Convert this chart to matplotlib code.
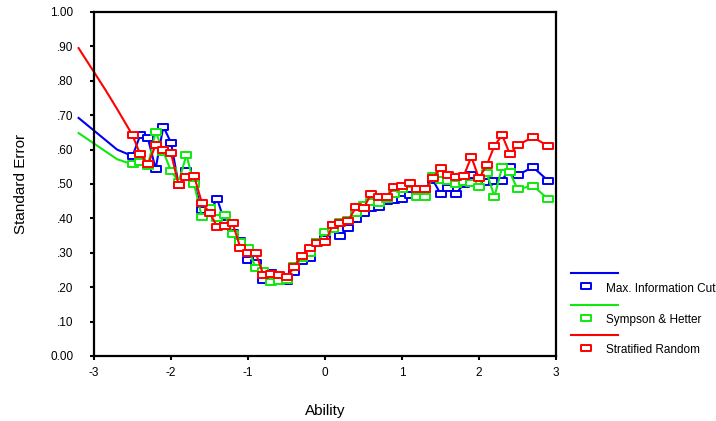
import matplotlib
matplotlib.use("Agg")
import matplotlib.pyplot as plt
from matplotlib.path import Path
from matplotlib.lines import Line2D

plt.rcParams['font.family'] = ['Liberation Sans', 'DejaVu Sans']
plt.rcParams['axes.unicode_minus'] = False

# lead-in part of each curve (drawn without markers)
lead_x = [-3.2, -2.85, -2.7]
lead_red = [0.895, 0.773, 0.718]
lead_x2 = [-3.2, -2.7]
lead_blue = [0.692, 0.600]
lead_green = [0.648, 0.572]

# ability points with markers (2.6 and 2.8 have no point)
ability = [-2.5, -2.4, -2.3, -2.2, -2.1, -2.0, -1.9, -1.8, -1.7, -1.6,
           -1.5, -1.4, -1.3, -1.2, -1.1, -1.0, -0.9, -0.8, -0.7, -0.6,
           -0.5, -0.4, -0.3, -0.2, -0.1, 0.0, 0.1, 0.2, 0.3, 0.4,
           0.5, 0.6, 0.7, 0.8, 0.9, 1.0, 1.1, 1.2, 1.3, 1.4,
           1.5, 1.6, 1.7, 1.8, 1.9, 2.0, 2.1, 2.2, 2.3, 2.4,
           2.5, 2.7, 2.9]

max_info = [0.581, 0.642, 0.633, 0.544, 0.667, 0.620, 0.497, 0.539, 0.502, 0.424,
            0.420, 0.456, 0.388, 0.358, 0.335, 0.279, 0.271, 0.221, 0.240, 0.232,
            0.218, 0.245, 0.276, 0.284, 0.330, 0.340, 0.380, 0.350, 0.371, 0.398,
            0.415, 0.430, 0.432, 0.450, 0.453, 0.456, 0.468, 0.480, 0.486, 0.512,
            0.471, 0.487, 0.471, 0.500, 0.526, 0.504, 0.505, 0.510, 0.510, 0.549,
            0.526, 0.549, 0.509]

sympson = [0.557, 0.565, 0.553, 0.652, 0.594, 0.538, 0.507, 0.584, 0.499, 0.405,
           0.429, 0.400, 0.410, 0.355, 0.330, 0.313, 0.255, 0.247, 0.214, 0.218,
           0.220, 0.262, 0.285, 0.300, 0.330, 0.361, 0.370, 0.390, 0.395, 0.417,
           0.439, 0.447, 0.446, 0.455, 0.470, 0.485, 0.500, 0.463, 0.463, 0.524,
           0.512, 0.510, 0.499, 0.505, 0.502, 0.492, 0.533, 0.463, 0.549, 0.534,
           0.485, 0.495, 0.456]

stratified = [0.642, 0.586, 0.557, 0.613, 0.600, 0.589, 0.497, 0.521, 0.523, 0.446,
              0.417, 0.376, 0.378, 0.386, 0.315, 0.300, 0.300, 0.235, 0.238, 0.235,
              0.230, 0.260, 0.292, 0.315, 0.328, 0.330, 0.381, 0.388, 0.393, 0.432,
              0.430, 0.471, 0.461, 0.463, 0.490, 0.495, 0.502, 0.485, 0.486, 0.516,
              0.547, 0.526, 0.521, 0.523, 0.579, 0.516, 0.555, 0.611, 0.642, 0.587,
              0.613, 0.636, 0.610]

labels = ["Max. Information Cut", "Sympson & Hetter", "Stratified Random"]
colors = ["#0000f0", "#10e810", "#ff0000"]

y_ticks = [0.0, 0.1, 0.2, 0.3, 0.4, 0.5, 0.6, 0.7, 0.8, 0.9, 1.0]
y_ticklabels = ["0.00", ".10", ".20", ".30", ".40", ".50", ".60", ".70", ".80", ".90", "1.00"]
x_ticks = [-3, -2, -1, 0, 1, 2, 3]

# wide hollow rectangle marker
rect = Path([(-1, -0.62), (1, -0.62), (1, 0.62), (-1, 0.62), (-1, -0.62)],
            [Path.MOVETO, Path.LINETO, Path.LINETO, Path.LINETO, Path.CLOSEPOLY])

fig = plt.figure(figsize=(7.16, 4.21), dpi=100)
ax = fig.add_axes([0.1313, 0.1544, 0.6453, 0.8171])

series = [(lead_x2, lead_blue, max_info), (lead_x2, lead_green, sympson), (lead_x, lead_red, stratified)]
for (lx, ly, vals), c in zip(series, colors):
    ax.plot(lx + [ability[0]], ly + [vals[0]], color=c, lw=1.5, clip_on=False)
    ax.plot(ability, vals, color=c, lw=1.5, marker=rect, markersize=6.8,
            markerfacecolor='white', markeredgecolor=c, markeredgewidth=1.4, clip_on=False)

ax.set_xlim(-3, 3)
ax.set_ylim(0, 1)
ax.set_xticks(x_ticks)
ax.set_xticklabels([str(t) for t in x_ticks])
ax.set_yticks(y_ticks)
ax.set_yticklabels(y_ticklabels)
ax.tick_params(axis='y', length=3, width=1.5, pad=12, labelsize=8.5)
ax.tick_params(axis='x', length=3, width=1.5, pad=5, labelsize=8.5)
for s in ax.spines.values():
    s.set_linewidth(1.6)
ax.set_xlabel("Ability", fontsize=11, labelpad=18)
ax.set_ylabel("Standard Error", fontsize=11, labelpad=16)

# legend drawn by hand at the right side
W, H = 716.0, 421.0
line_y = [272.5, 304.5, 335.0]
mark_y = [286.0, 317.5, 347.5]
text_y = [289.5, 319.5, 350.0]
for c, lab, ly, my, ty in zip(colors, labels, line_y, mark_y, text_y):
    fig.add_artist(Line2D([571 / W, 618 / W], [1 - ly / H, 1 - ly / H], color=c, lw=1.5))
    fig.add_artist(Line2D([586 / W], [1 - my / H], marker=rect, markersize=6.8,
                          markerfacecolor='white', markeredgecolor=c, markeredgewidth=1.4))
    fig.text(606 / W, 1 - ty / H, lab, fontsize=8.5, va='center', ha='left')

fig.savefig("out.png", dpi=100)
